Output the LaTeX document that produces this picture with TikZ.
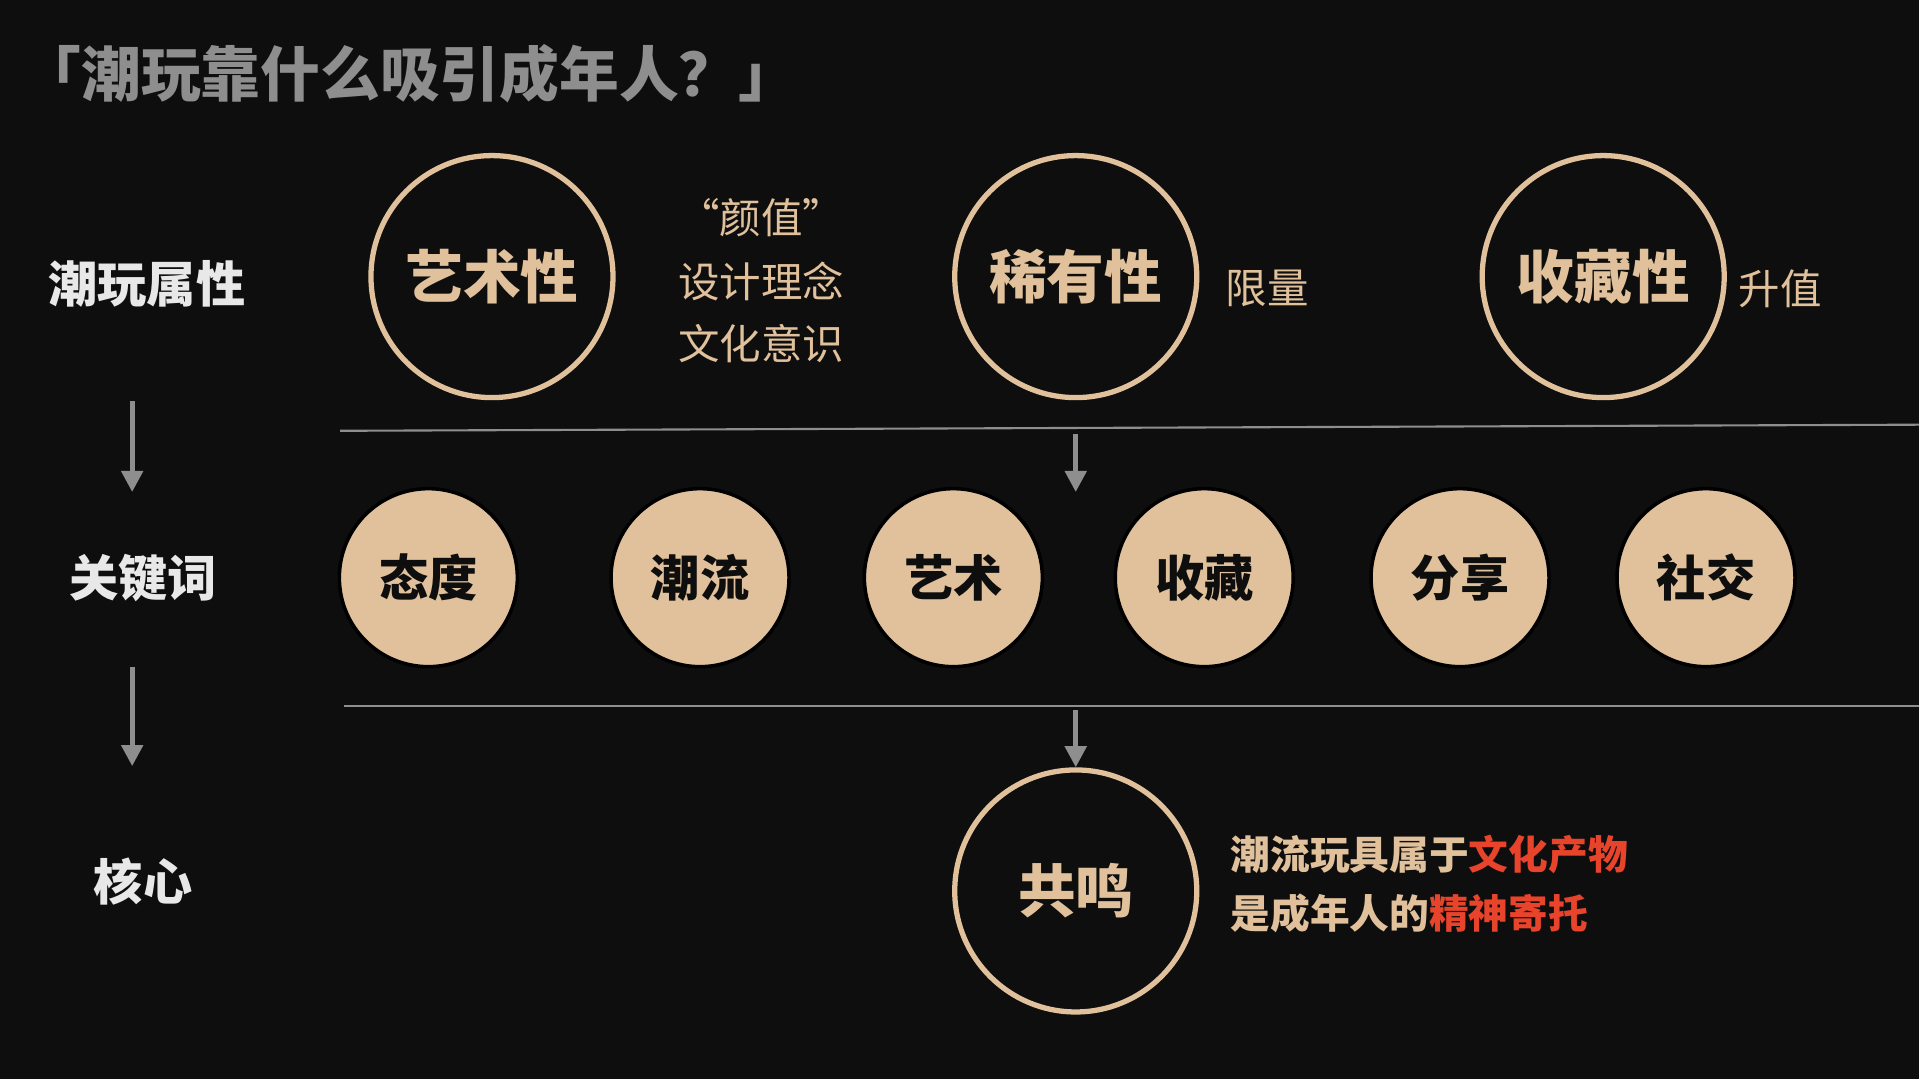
\documentclass[tikz,border=0pt]{standalone}
\usepackage{fontspec}
\setmainfont{Noto Sans CJK SC}
\usetikzlibrary{arrows.meta}
\definecolor{bgdark}{HTML}{0E0E0E}
\definecolor{sand}{HTML}{E0C19B}
\definecolor{hotred}{HTML}{E8432B}
\definecolor{midgray}{HTML}{8E8E8E}
\definecolor{softwhite}{HTML}{E8E8E8}

\begin{document}
\begin{tikzpicture}[x=0.012245cm, y=-0.012245cm,
    titletext/.style={anchor=west, inner sep=0pt, text=midgray, font=\fontsize{17pt}{20pt}\selectfont\bfseries},
    rowlabel/.style={inner sep=0pt, text=softwhite, font=\fontsize{14pt}{17pt}\selectfont\bfseries},
    ringstyle/.style={circle, draw=sand, line width=1.5pt, minimum size=2.42cm, inner sep=0pt, text=sand, font=\fontsize{16.4pt}{19pt}\selectfont\bfseries},
    notetext/.style={inner sep=0pt, text=sand, font=\fontsize{11.8pt}{14pt}\selectfont},
    discstyle/.style={circle, fill=sand, draw=black, line width=1pt, minimum size=1.78cm, inner sep=0pt, text=bgdark, font=\fontsize{14pt}{17pt}\selectfont\bfseries},
    sumtext/.style={anchor=west, inner sep=0pt, text=sand, font=\fontsize{11.3pt}{14pt}\selectfont\bfseries},
    ruleline/.style={draw=midgray, line width=0.6pt},
    arrowline/.style={draw=midgray, line width=1.4pt, -{Triangle[width=6pt, length=6pt]}}]

    \fill[bgdark] (0,0) rectangle (1568,882);

    \node[titletext] (title) at (17,60) {「潮玩靠什么吸引成年人？」};

    % row labels
    \node[rowlabel] (attr) at (120,232) {潮玩属性};
    \node[rowlabel] (key) at (117,472) {关键词};
    \node[rowlabel] (core) at (117,720) {核心};

    % top row
    \node[ringstyle] (art) at (402,226) {艺术性};
    \node[notetext] (look) at (622,178) {“颜值”};
    \node[notetext] (design) at (622,230) {设计理念};
    \node[notetext] (culture) at (622,281) {文化意识};
    \node[ringstyle] (rare) at (879,226) {稀有性};
    \node[notetext, anchor=west] (limit) at (1001,236) {限量};
    \node[ringstyle] (collect) at (1310,226) {收藏性};
    \node[notetext, anchor=west] (rise) at (1420,236) {升值};

    % keywords
    \foreach \x/\w [count=\i] in {350/态度, 572/潮流, 779/艺术, 984/收藏, 1193/分享, 1394/社交}{
            \node[discstyle] (kw\i) at (\x,472) {\w};
        }

    % bottom row
    \node[ringstyle] (echo) at (879,728) {共鸣};
    \node[sumtext] (sum1) at (1005,698) {潮流玩具属于\textcolor{hotred}{文化产物}};
    \node[sumtext] (sum2) at (1005,746) {是成年人的\textcolor{hotred}{精神寄托}};

    % rules and arrows
    \coordinate (ruleAl) at (278,352);
    \coordinate (ruleAr) at (1568,347);
    \coordinate (ruleBl) at (281,577);
    \coordinate (ruleBr) at (1568,577);
    \draw[ruleline] (ruleAl) -- (ruleAr);
    \draw[ruleline] (ruleBl) -- (ruleBr);

    \coordinate (a1s) at (108,328);
    \coordinate (a1e) at (108,402);
    \coordinate (a2s) at (108,545);
    \coordinate (a2e) at (108,626);
    \coordinate (m1s) at (879,355);
    \coordinate (m1e) at (879,402);
    \coordinate (m2s) at (879,580);
    \draw[arrowline] (a1s) -- (a1e);
    \draw[arrowline] (a2s) -- (a2e);
    \draw[arrowline] (m1s) -- (m1e);
    \draw[arrowline] (m2s) -- (echo.north);
\end{tikzpicture}
\end{document}
